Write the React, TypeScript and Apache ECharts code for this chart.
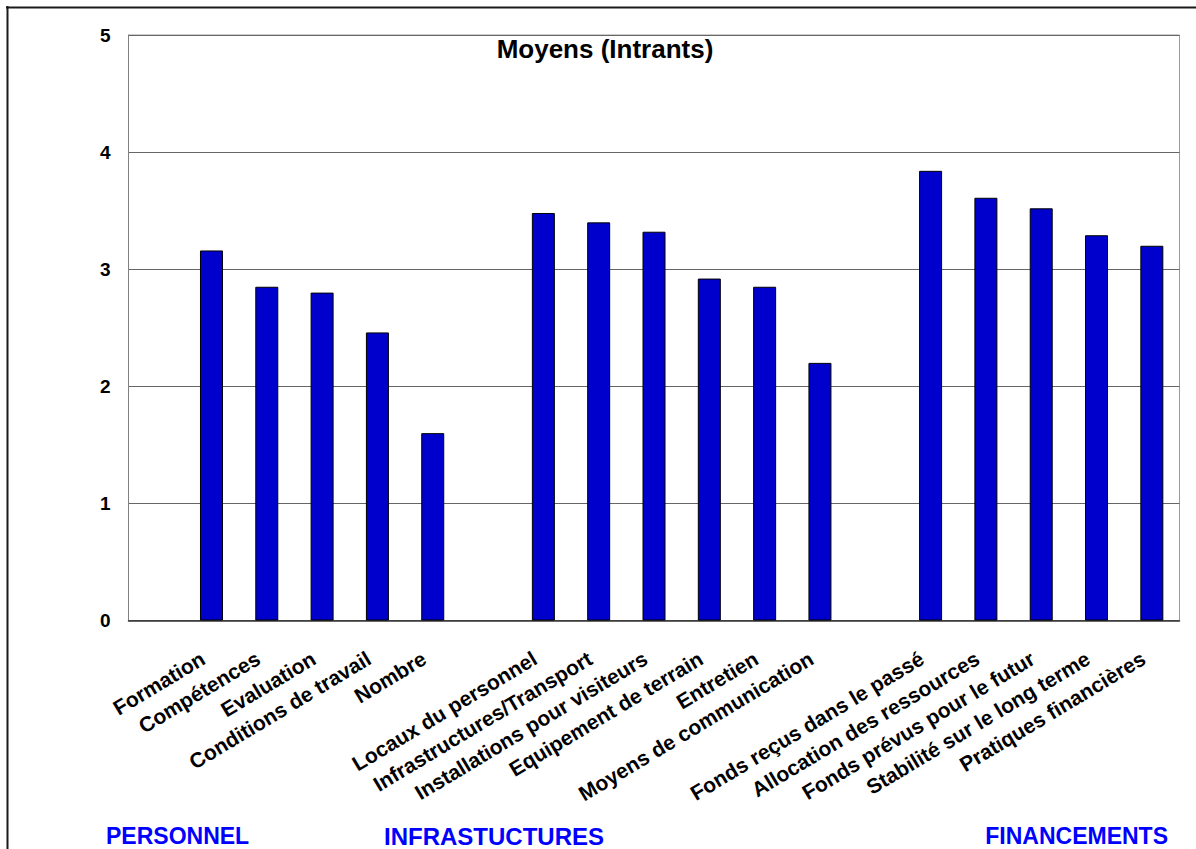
import { useEffect, useRef } from "react";
import * as echarts from "echarts";

// Category slots: blank slots separate the three groups of criteria
const categories = [
  "",
  "Formation",
  "Compétences",
  "Evaluation",
  "Conditions de travail",
  "Nombre",
  "",
  "Locaux du personnel",
  "Infrastructures/Transport",
  "Installations pour visiteurs",
  "Equipement de terrain",
  "Entretien",
  "Moyens de communication",
  "",
  "Fonds reçus dans le passé",
  "Allocation des ressources",
  "Fonds prévus pour le futur",
  "Stabilité sur le long terme",
  "Pratiques financières",
];

const scores: (number | null)[] = [
  null, 3.16, 2.85, 2.8, 2.46, 1.6,
  null, 3.48, 3.4, 3.32, 2.92, 2.85, 2.2,
  null, 3.84, 3.61, 3.52, 3.29, 3.2,
];

const chartTitle = "Moyens (Intrants)";
const groupNames = ["PERSONNEL", "INFRASTUCTURES", "FINANCEMENTS"];
const yMin = 0;
const yMax = 5;
const yStep = 1;

const FONT = "'Liberation Sans', Arial, Helvetica, sans-serif";

export default function App() {
  const ref = useRef<HTMLDivElement>(null);

  useEffect(() => {
    if (!ref.current) return;
    const chart = echarts.init(ref.current, null, { renderer: "svg" });
    chart.setOption({
      animation: false,
      backgroundColor: "#ffffff",
      textStyle: { fontFamily: FONT },
      grid: {
        left: 128.5,
        right: 16.5,
        top: 35,
        bottom: 228.5,
        show: true,
        borderColor: "#9a9a9a",
        borderWidth: 1,
        backgroundColor: "transparent",
        containLabel: false,
        outerBoundsMode: "none",
      },
      xAxis: {
        type: "category",
        data: categories,
        boundaryGap: true,
        axisLine: { show: true, lineStyle: { color: "#333333", width: 1.5 } },
        axisTick: { show: false },
        axisLabel: {
          interval: 0,
          rotate: 31,
          margin: 31,
          padding: [0, 10, 0, 0],
          color: "#000000",
          fontWeight: "bold",
          fontSize: 21,
          fontFamily: FONT,
        },
        splitLine: { show: false },
      },
      yAxis: {
        type: "value",
        min: yMin,
        max: yMax,
        interval: yStep,
        axisLine: { show: true, lineStyle: { color: "#808080", width: 1 } },
        axisTick: { show: false },
        axisLabel: {
          margin: 18,
          color: "#000000",
          fontWeight: "bold",
          fontSize: 19,
          fontFamily: FONT,
        },
        splitLine: { show: true, lineStyle: { color: "#666666", width: 1 } },
      },
      series: [
        {
          type: "bar",
          data: scores,
          barWidth: 23,
          itemStyle: { color: "#0000CC", borderColor: "#000000", borderWidth: 1 },
        },
      ],
      graphic: [
        // outer chart border (top and left edges)
        { type: "line", shape: { x1: 6, y1: 7.5, x2: 1196, y2: 7.5 }, style: { stroke: "#1a1a1a", lineWidth: 2 } },
        { type: "line", shape: { x1: 7.5, y1: 6, x2: 7.5, y2: 849 }, style: { stroke: "#1a1a1a", lineWidth: 2 } },
        {
          type: "text",
          x: 605,
          y: 49,
          style: {
            text: chartTitle,
            fill: "#000000",
            font: `bold 26px ${FONT}`,
            textAlign: "center",
            textVerticalAlign: "middle",
          },
        },
        {
          type: "text",
          x: 106,
          y: 836,
          style: { text: groupNames[0], fill: "#0000FF", font: `bold 23px ${FONT}`, textAlign: "left", textVerticalAlign: "middle" },
        },
        {
          type: "text",
          x: 384,
          y: 836,
          style: { text: groupNames[1], fill: "#0000FF", font: `bold 24px ${FONT}`, textAlign: "left", textVerticalAlign: "middle" },
        },
        {
          type: "text",
          x: 1168,
          y: 836,
          style: { text: groupNames[2], fill: "#0000FF", font: `bold 23px ${FONT}`, textAlign: "right", textVerticalAlign: "middle" },
        },
      ],
    });
    return () => chart.dispose();
  }, []);

  return (
    <div
      ref={ref}
      style={{ position: "fixed", left: 0, top: 0, width: 1196, height: 849, background: "#ffffff" }}
    />
  );
}
